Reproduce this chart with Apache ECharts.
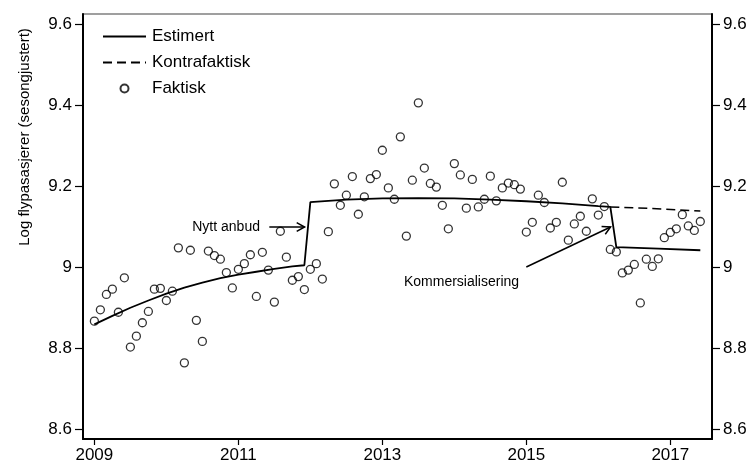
<!DOCTYPE html>
<html>
<head>
<meta charset="utf-8">
<script src="https://cdn.jsdelivr.net/npm/echarts@6/dist/echarts.min.js"></script>
<style>
  html, body { margin: 0; padding: 0; background: #fff; }
  #chart { width: 753px; height: 467px; }
</style>
</head>
<body>
<div id="chart"></div>
<script>
// monthly series, first month = January 2009
const startYear = 2009;

// Faktisk (log passengers, seasonally adjusted), one value per month
const actual = [
  8.867, 8.895, 8.933, 8.946, 8.889, 8.974, 8.803, 8.830, 8.863, 8.891, 8.946, 8.948,
  8.918, 8.941, 9.048, 8.764, 9.042, 8.869, 8.817, 9.040, 9.029, 9.020, 8.987, 8.949,
  8.995, 9.009, 9.031, 8.928, 9.037, 8.993, 8.914, 9.089, 9.025, 8.968, 8.977, 8.945,
  8.995, 9.009, 8.971, 9.088, 9.206, 9.153, 9.178, 9.224, 9.131, 9.174, 9.219, 9.229,
  9.289, 9.196, 9.168, 9.322, 9.077, 9.215, 9.406, 9.245, 9.207, 9.198, 9.153, 9.095,
  9.256, 9.228, 9.146, 9.217, 9.149, 9.168, 9.225, 9.164, 9.196, 9.208, 9.204, 9.193,
  9.087, 9.111, 9.178, 9.160, 9.097, 9.111, 9.210, 9.067, 9.107, 9.126, 9.089, 9.169,
  9.129, 9.150, 9.044, 9.038, 8.986, 8.993, 9.007, 8.912, 9.020, 9.002, 9.021, 9.073,
  9.086, 9.095, 9.130, 9.102, 9.091, 9.113
];

// Estimert: month index -> fitted value (jumps at new tender and commercialisation)
const estimatedMonth = [0, 3, 6, 9, 12, 15, 18, 21, 24, 27, 30, 33, 35,
  36, 42, 48, 54, 60, 66, 72, 78, 84, 86,
  87, 94, 101];
const estimatedValue = [8.859, 8.880, 8.900, 8.918, 8.935, 8.950, 8.962, 8.973, 8.982, 8.989, 8.996, 9.002, 9.005,
  9.161, 9.167, 9.170, 9.171, 9.170, 9.167, 9.163, 9.158, 9.151, 9.149,
  9.050, 9.046, 9.042];

// Kontrafaktisk
const counterMonth = [86, 93, 101];
const counterValue = [9.149, 9.145, 9.139];

const xTicks = [2009, 2011, 2013, 2015, 2017];
const yTicks = [8.6, 8.8, 9, 9.2, 9.4, 9.6];

// annotations (data space)
const noteText = ['Nytt anbud', 'Kommersialisering'];
const noteAt = [[2011.30, 9.0995], [2014.10, 8.964]];
const noteAlign = ['right', 'center'];
const arrowFrom = [[2011.43, 9.0995], [2015.00, 9.0007]];
const arrowTo = [[2011.92, 9.0995], [2016.17, 9.0995]];

const FONT = '"Liberation Sans", Arial, sans-serif';
const toYear = m => startYear + m / 12;

function drawChart() {
  const chart = echarts.init(document.getElementById('chart'));

  const yAxisBase = {
    type: 'value',
    min: 8.576,
    max: 9.6254,
    splitLine: { show: false },
    axisLine: { show: true, lineStyle: { color: '#000', width: 2 } },
    axisTick: { show: true, length: 8, customValues: yTicks, lineStyle: { color: '#000', width: 1.2 } },
    axisLabel: { customValues: yTicks, margin: 11, color: '#000', fontSize: 17, fontFamily: FONT,
      formatter: v => String(v) }
  };

  // hide the dot ECharts puts on line legend icons
  const noDot = { opacity: 0 };

  const option = {
    animation: false,
    backgroundColor: '#fff',
    grid: { left: 83, right: 41, top: 14, bottom: 28, show: true, borderColor: '#808080', borderWidth: 1.5 },
    legend: {
      orient: 'vertical',
      left: 97,
      top: 23,
      itemWidth: 43,
      itemHeight: 8,
      itemGap: 9,
      data: [
        { name: 'Estimert', itemStyle: noDot },
        { name: 'Kontrafaktisk', itemStyle: noDot },
        { name: 'Faktisk' }
      ],
      textStyle: { color: '#000', fontSize: 17, fontFamily: FONT, padding: [0, 0, 0, 1] }
    },
    xAxis: {
      type: 'value',
      min: 2008.842,
      max: 2017.579,
      splitLine: { show: false },
      axisLine: { show: true, onZero: false, lineStyle: { color: '#000', width: 2 } },
      axisTick: { show: true, length: 6, customValues: xTicks, lineStyle: { color: '#000', width: 1.2 } },
      axisLabel: { customValues: xTicks, margin: 8, color: '#000', fontSize: 17, fontFamily: FONT,
        formatter: v => String(v) }
    },
    yAxis: [
      Object.assign({ position: 'left' }, yAxisBase),
      Object.assign({ position: 'right' }, yAxisBase)
    ],
    graphic: [{
      type: 'text',
      x: 25,
      y: 137,
      rotation: Math.PI / 2,
      style: { text: 'Log flypasasjerer (sesongjustert)', textAlign: 'center', textVerticalAlign: 'middle',
        font: '15px ' + FONT, fill: '#000' }
    }],
    series: [
      {
        name: 'Faktisk',
        type: 'scatter',
        symbol: 'circle',
        symbolSize: 8,
        itemStyle: { color: 'rgba(0,0,0,0)', borderColor: '#000', borderWidth: 1.3 },
        data: actual.map((v, i) => [toYear(i), v]),
        z: 2
      },
      {
        name: 'Estimert',
        type: 'line',
        symbol: 'none',
        lineStyle: { color: '#000', width: 1.8 },
        itemStyle: { color: '#000' },
        data: estimatedMonth.map((m, i) => [toYear(m), estimatedValue[i]]),
        z: 3
      },
      {
        name: 'Kontrafaktisk',
        type: 'line',
        symbol: 'none',
        lineStyle: { color: '#000', width: 1.5, type: [9, 5] },
        itemStyle: { color: '#000' },
        data: counterMonth.map((m, i) => [toYear(m), counterValue[i]]),
        z: 3
      },
      {
        type: 'custom',
        silent: true,
        z: 4,
        data: arrowTo,
        renderItem: (params, api) => {
          const i = params.dataIndex;
          const p0 = api.coord(arrowFrom[i]);
          const p1 = api.coord(arrowTo[i]);
          const t = api.coord(noteAt[i]);
          const ang = Math.atan2(p1[1] - p0[1], p1[0] - p0[0]);
          const head = 9, spread = 0.5;
          const h1 = [p1[0] - head * Math.cos(ang - spread), p1[1] - head * Math.sin(ang - spread)];
          const h2 = [p1[0] - head * Math.cos(ang + spread), p1[1] - head * Math.sin(ang + spread)];
          return {
            type: 'group',
            children: [
              { type: 'line', shape: { x1: p0[0], y1: p0[1], x2: p1[0], y2: p1[1] },
                style: { stroke: '#000', lineWidth: 1.5 } },
              { type: 'polyline', shape: { points: [h1, p1, h2] },
                style: { stroke: '#000', lineWidth: 1.5, fill: null } },
              { type: 'text', x: t[0], y: t[1],
                style: { text: noteText[i], textAlign: noteAlign[i], textVerticalAlign: 'middle',
                  font: '14px ' + FONT, fill: '#000' } }
            ]
          };
        }
      }
    ]
  };

  chart.setOption(option);
}

drawChart();
</script>
</body>
</html>
